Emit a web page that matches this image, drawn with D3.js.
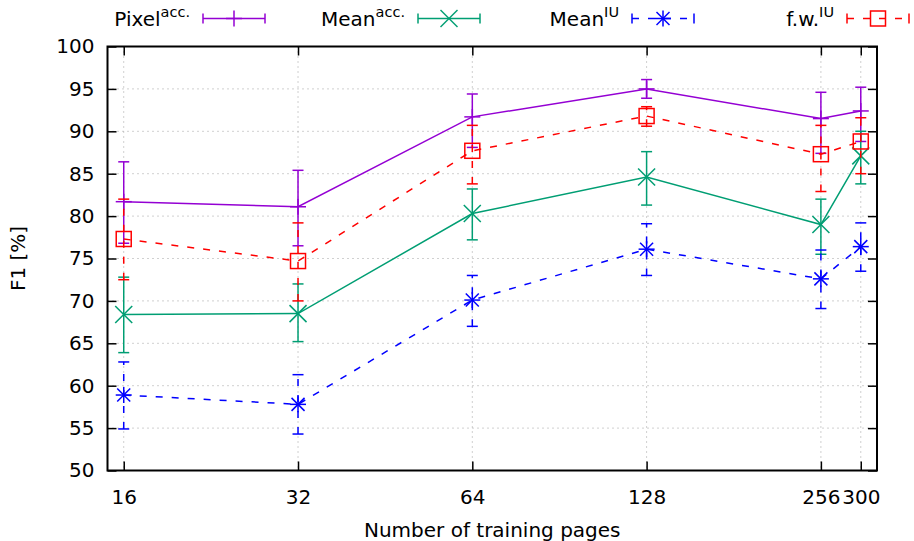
<!DOCTYPE html>
<html>
<head>
<meta charset="utf-8">
<script src="https://cdn.jsdelivr.net/npm/d3@7"></script>
<style>
html,body{margin:0;padding:0;background:#fff;}
svg{display:block;font-family:"DejaVu Sans",sans-serif;}
</style>
</head>
<body>
<svg id="chart" width="914" height="541"></svg>
<script>
// ---- data ----
const pages = [16, 32, 64, 128, 256, 300];
const xTickLabels = ["16", "32", "64", "128", "256", "300"];
const yTicks = [50, 55, 60, 65, 70, 75, 80, 85, 90, 95, 100];

const pixelAcc     = [81.7, 81.1, 91.7, 95.0, 91.5, 92.4];
const pixelAccLow  = [76.8, 76.5, 88.1, 93.9, 87.4, 88.8];
const pixelAccHigh = [86.4, 85.4, 94.4, 96.1, 94.6, 95.2];

const meanAcc      = [68.4, 68.5, 80.3, 84.6, 79.0, 87.1];
const meanAccLow   = [63.9, 65.2, 77.2, 81.3, 75.5, 83.8];
const meanAccHigh  = [72.8, 72.0, 83.2, 87.6, 82.0, 90.0];

const meanIU       = [58.9, 57.8, 70.1, 76.1, 72.6, 76.4];
const meanIULow    = [54.9, 54.3, 67.0, 73.0, 69.1, 73.5];
const meanIUHigh   = [62.8, 61.3, 73.0, 79.1, 76.0, 79.2];

const fwIU         = [77.3, 74.7, 87.7, 91.8, 87.3, 88.8];
const fwIULow      = [72.5, 70.0, 83.8, 90.6, 82.9, 85.0];
const fwIUHigh     = [82.0, 79.2, 90.7, 92.9, 90.7, 91.6];

const seriesNames = ["Pixel", "Mean", "Mean", "f.w."];
const seriesSups  = ["acc.", "acc.", "IU", "IU"];

// ---- layout ----
const L = 107.5, R = 877, T = 46.5, B = 470.5;
const svg = d3.select("#chart");
const x = d3.scaleLog().base(2).domain([15, 320]).range([L, R]);
const y = d3.scaleLinear().domain([50, 100]).range([B, T]);

const series = [
  {name: seriesNames[0], sup: seriesSups[0], v: pixelAcc, lo: pixelAccLow, hi: pixelAccHigh, color: "#9400d3", dash: null, marker: "plus"},
  {name: seriesNames[1], sup: seriesSups[1], v: meanAcc, lo: meanAccLow, hi: meanAccHigh, color: "#009e73", dash: null, marker: "cross"},
  {name: seriesNames[2], sup: seriesSups[2], v: meanIU, lo: meanIULow, hi: meanIUHigh, color: "#0000ff", dash: "7,9", marker: "star"},
  {name: seriesNames[3], sup: seriesSups[3], v: fwIU, lo: fwIULow, hi: fwIUHigh, color: "#ff0000", dash: "7,9", marker: "square"}
];

// ---- grid ----
const grid = svg.append("g").attr("stroke", "#a0a0a0").attr("stroke-width", 1).attr("stroke-dasharray", "1,4");
yTicks.filter(t => t > 50 && t < 100).forEach(t => {
  grid.append("line").attr("x1", L).attr("x2", R).attr("y1", y(t)).attr("y2", y(t));
});
pages.forEach(p => {
  grid.append("line").attr("x1", x(p)).attr("x2", x(p)).attr("y1", T).attr("y2", B);
});

// ---- axes via d3 ----
const yAxis = d3.axisLeft(y).tickValues(yTicks).tickSize(-9).tickPadding(13).tickFormat(d3.format("d"));
const yAxisR = d3.axisRight(y).tickValues(yTicks).tickSize(-9).tickFormat("");
const xAxis = d3.axisBottom(x).tickValues(pages).tickSize(-9).tickPadding(19).tickFormat((d, i) => xTickLabels[i]);
const xAxisT = d3.axisTop(x).tickValues(pages).tickSize(-9).tickFormat("");

function styleAxis(g) {
  g.select(".domain").remove();
  g.selectAll(".tick line").attr("stroke", "#000").attr("stroke-width", 1.5);
  g.selectAll(".tick text").attr("fill", "#000").attr("font-size", 20).attr("font-family", "DejaVu Sans");
}
svg.append("g").attr("transform", `translate(${L},0)`).call(yAxis).call(styleAxis);
svg.append("g").attr("transform", `translate(${R},0)`).call(yAxisR).call(styleAxis);
svg.append("g").attr("transform", `translate(0,${B})`).call(xAxis).call(styleAxis);
svg.append("g").attr("transform", `translate(0,${T})`).call(xAxisT).call(styleAxis);

// ---- markers ----
function drawMarker(g, cx, cy, type, color) {
  const s = 8;
  const m = g.append("g").attr("stroke", color).attr("stroke-width", 1.5).attr("fill", "none");
  if (type === "plus" || type === "star") {
    m.append("line").attr("x1", cx - s).attr("x2", cx + s).attr("y1", cy).attr("y2", cy);
    m.append("line").attr("x1", cx).attr("x2", cx).attr("y1", cy - s).attr("y2", cy + s);
  }
  if (type === "cross" || type === "star") {
    const d = type === "star" ? 6.5 : 8.5;
    m.append("line").attr("x1", cx - d).attr("x2", cx + d).attr("y1", cy - d).attr("y2", cy + d);
    m.append("line").attr("x1", cx - d).attr("x2", cx + d).attr("y1", cy + d).attr("y2", cy - d);
  }
  if (type === "square") {
    m.append("rect").attr("x", cx - 7.5).attr("y", cy - 7.5).attr("width", 15).attr("height", 15);
  }
}

// ---- series ----
const line = d3.line().x(d => x(d.p)).y(d => y(d.v));
series.forEach(s => {
  const g = svg.append("g");
  const pts = pages.map((p, i) => ({p, v: s.v[i], lo: s.lo[i], hi: s.hi[i]}));
  g.append("path").datum(pts).attr("d", line).attr("fill", "none")
    .attr("stroke", s.color).attr("stroke-width", 1.5)
    .attr("stroke-dasharray", s.dash);
  pts.forEach(d => {
    const cx = x(d.p);
    const eb = g.append("g").attr("stroke", s.color).attr("stroke-width", 1.5).attr("stroke-dasharray", s.dash);
    eb.append("line").attr("x1", cx).attr("x2", cx).attr("y1", y(d.lo)).attr("y2", y(d.hi));
    const caps = g.append("g").attr("stroke", s.color).attr("stroke-width", 1.5);
    caps.append("line").attr("x1", cx - 5.5).attr("x2", cx + 5.5).attr("y1", y(d.lo)).attr("y2", y(d.lo));
    caps.append("line").attr("x1", cx - 5.5).attr("x2", cx + 5.5).attr("y1", y(d.hi)).attr("y2", y(d.hi));
    drawMarker(g, cx, y(d.v), s.marker, s.color);
  });
});

// ---- frame ----
svg.append("rect").attr("x", L).attr("y", T).attr("width", R - L).attr("height", B - T)
  .attr("fill", "none").attr("stroke", "#000").attr("stroke-width", 2);

// ---- axis titles ----
svg.append("text").attr("x", (L + R) / 2).attr("y", 537).attr("text-anchor", "middle")
  .attr("font-size", 20).attr("fill", "#000").text("Number of training pages");
svg.append("text").attr("transform", `translate(25,${(T + B) / 2}) rotate(-90)`).attr("text-anchor", "middle")
  .attr("font-size", 20).attr("fill", "#000").text("F1 [%]");

// ---- legend ----
const legendStart = [203, 418, 632, 847];
const sampleW = 62, legY = 18.5;
series.forEach((s, i) => {
  const x0 = legendStart[i];
  const t = svg.append("text").attr("x", x0 - 13).attr("y", 26).attr("text-anchor", "end")
    .attr("font-size", 20).attr("fill", "#000");
  t.append("tspan").text(s.name);
  t.append("tspan").attr("font-size", 14.5).attr("dy", -9).text(s.sup);
  const g = svg.append("g");
  g.append("line").attr("x1", x0).attr("x2", x0 + sampleW).attr("y1", legY).attr("y2", legY)
    .attr("stroke", s.color).attr("stroke-width", 1.5).attr("stroke-dasharray", s.dash);
  [x0, x0 + sampleW].forEach(cx => {
    g.append("line").attr("x1", cx).attr("x2", cx).attr("y1", legY - 5).attr("y2", legY + 5)
      .attr("stroke", s.color).attr("stroke-width", 1.5);
  });
  drawMarker(g, x0 + sampleW / 2, legY, s.marker, s.color);
});
</script>
</body>
</html>
